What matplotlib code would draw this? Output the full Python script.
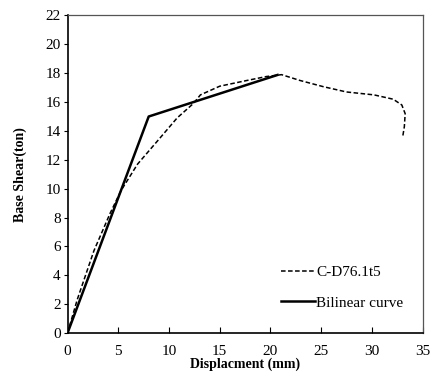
import matplotlib
matplotlib.use("Agg")
import matplotlib.pyplot as plt

# pushover response of specimen C-D76.1t5 and its bilinear idealisation
disp_test = [0, 0.95, 2.6, 4.2, 5.3, 6.9, 8.0, 9.1, 10.8, 12.4, 13.1, 15.0,
             17.7, 19.6, 21.1, 22.9, 25.2, 27.5, 30.2, 32.1, 32.95, 33.28,
             33.2, 33.05]
shear_test = [0, 2.3, 5.7, 8.3, 9.9, 11.7, 12.6, 13.5, 14.9, 15.9, 16.5, 17.1,
              17.5, 17.77, 17.9, 17.5, 17.07, 16.7, 16.5, 16.2, 15.8, 15.2,
              14.3, 13.65]

disp_bilinear = [0, 8, 20.7]
shear_bilinear = [0, 15, 17.88]

xticks = [0, 5, 10, 15, 20, 25, 30, 35]
yticks = [0, 2, 4, 6, 8, 10, 12, 14, 16, 18, 20, 22]

plt.rcParams["font.family"] = ["Liberation Serif", "DejaVu Serif"]

fig = plt.figure(figsize=(4.33, 3.76), dpi=100)
ax = fig.add_axes([0.156, 0.1144, 0.820, 0.8444])

ax.plot(disp_test, shear_test, color="black", linestyle=(0, (3, 1.6)),
        linewidth=1.1, label="C-D76.1t5")
ax.plot(disp_bilinear, shear_bilinear, color="black", linestyle="-",
        linewidth=1.8, label="Bilinear curve")

ax.set_xlim(0, 35)
ax.set_ylim(0, 22)
ax.set_xticks(xticks)
ax.set_yticks(yticks)
ax.tick_params(axis="x", direction="in", length=4, labelsize=11, pad=9)
ax.tick_params(axis="y", direction="out", length=3, labelsize=11, pad=2)

for side in ("bottom", "left"):
    ax.spines[side].set_color("black")
    ax.spines[side].set_linewidth(1.2)
for side in ("top", "right"):
    ax.spines[side].set_color("#555555")
    ax.spines[side].set_linewidth(0.9)

ax.set_xlabel("Displacment (mm)", fontweight="bold", fontsize=10, labelpad=-1)
ax.set_ylabel("Base Shear(ton)", fontweight="bold", fontsize=10, labelpad=13)

ax.legend(loc="lower right", bbox_to_anchor=(0.985, 0.03), frameon=False,
          fontsize=11, handlelength=2.2, handletextpad=0.1, labelspacing=1.1)

fig.savefig("out.png", dpi=100)
plt.close(fig)
